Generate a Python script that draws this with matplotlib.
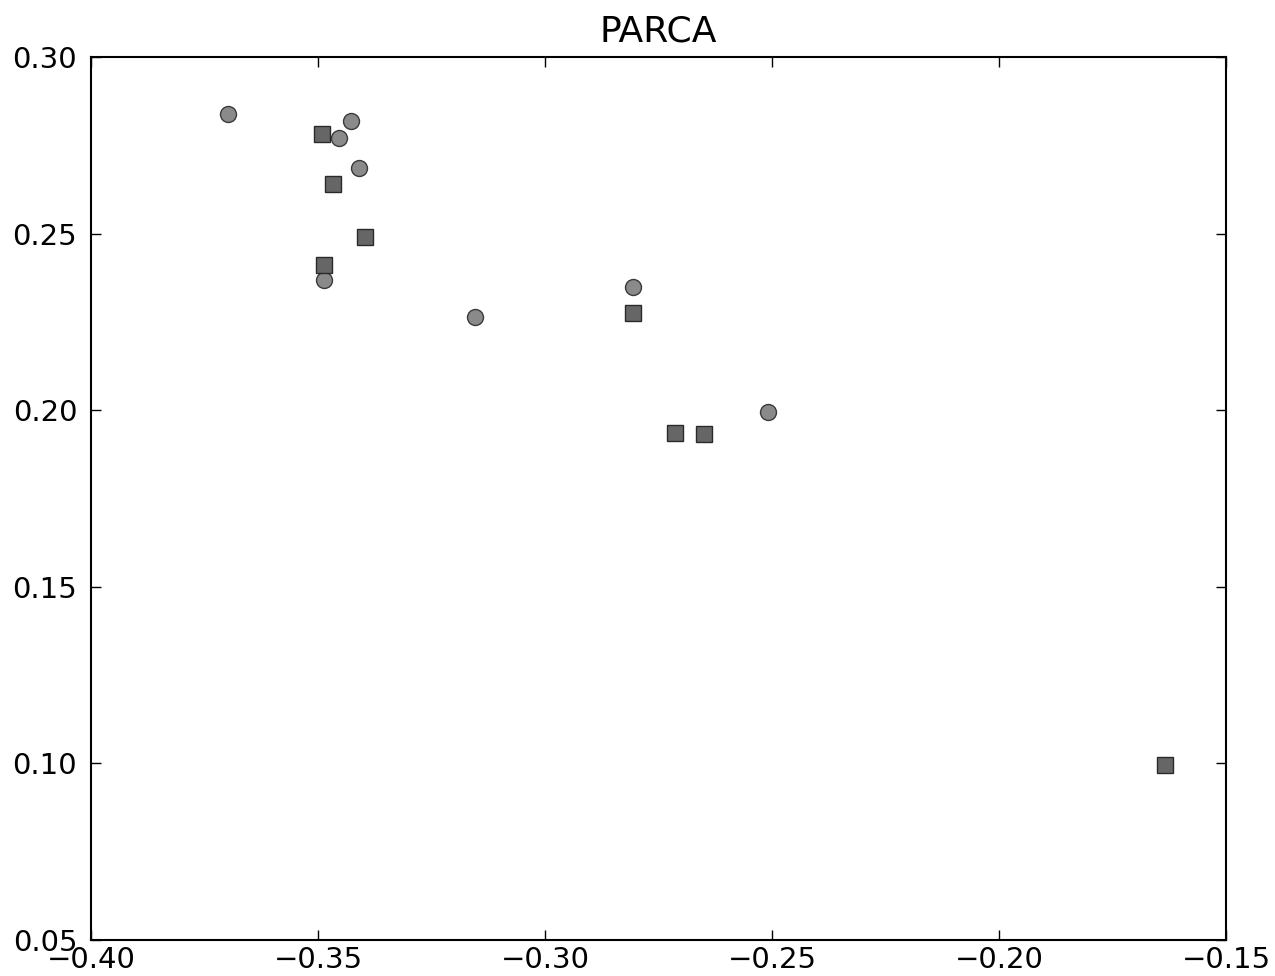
import numpy as np
import matplotlib
matplotlib.use("Agg")
import matplotlib.pyplot as plt

# circles
circ_x = [-0.3698, -0.3427, -0.3454, -0.3410, -0.3487, -0.3154, -0.2806, -0.2509]
circ_y = [0.2839, 0.2819, 0.2771, 0.2686, 0.2369, 0.2264, 0.2349, 0.1995]

# squares
sq_x = [-0.3491, -0.3467, -0.3396, -0.3487, -0.2806, -0.2714, -0.2650, -0.1634]
sq_y = [0.2782, 0.2640, 0.2490, 0.2411, 0.2275, 0.1935, 0.1933, 0.0995]

xticks = [-0.40, -0.35, -0.30, -0.25, -0.20, -0.15]
yticks = [0.05, 0.10, 0.15, 0.20, 0.25, 0.30]

fig = plt.figure(figsize=(12.75, 9.76), dpi=100)
ax = fig.add_axes([0.0714, 0.0369, 0.8902, 0.9047])

ax.plot(circ_x, circ_y, 'o', color='#8a8a8a', markeredgecolor='#3a3a3a',
        markeredgewidth=1.0, markersize=11.5)
ax.plot(sq_x, sq_y, 's', color='#666666', markeredgecolor='#2a2a2a',
        markeredgewidth=1.0, markersize=11.5)

ax.set_xlim(-0.40, -0.15)
ax.set_ylim(0.05, 0.30)
ax.set_xticks(xticks)
ax.set_yticks(yticks)
ax.set_xticklabels(['\u22120.%02d' % round(-v * 100) for v in xticks])
ax.set_yticklabels(['%.2f' % v for v in yticks])
ax.tick_params(direction='in', length=7, width=1, top=True, right=True,
               labelsize=21)
ax.tick_params(axis='x', pad=4)
ax.tick_params(axis='y', pad=10)
for s in ax.spines.values():
    s.set_linewidth(1.5)
ax.set_title('PARCA', fontsize=26, pad=11)

fig.savefig('out.png', dpi=100)
